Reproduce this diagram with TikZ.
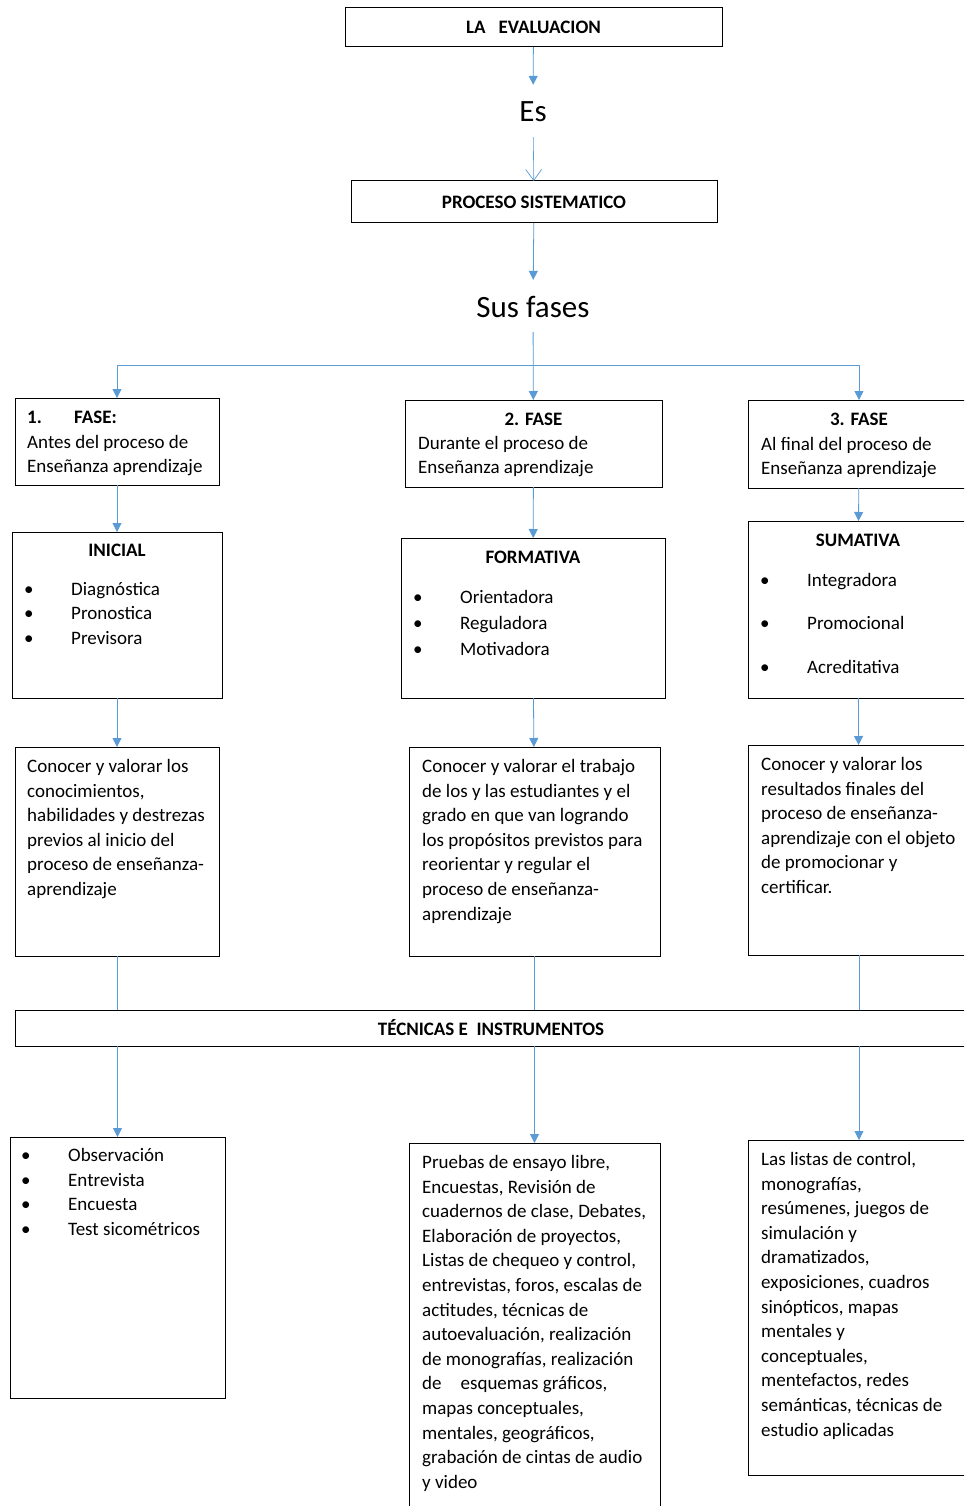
\documentclass[tikz,border=0pt]{standalone}
\usepackage{fontspec}
\setmainfont{Carlito}
\usetikzlibrary{positioning, arrows.meta}
\definecolor{linkblue}{RGB}{91,155,213}
\newcommand{\bitem}{\makebox[47pt][l]{\textbullet}}

\begin{document}
\begin{tikzpicture}
                [x=1pt, y=-1pt,
                bsty/.style={draw=black, line width=1pt, anchor=north west, inner sep=0pt, outer sep=0pt},
                csty/.style={draw=black, line width=1pt, anchor=north west, inner sep=0pt, outer sep=0pt, font=\fontsize{19}{24.6}\selectfont\bfseries},
                tsty/.style={inner sep=0pt, align=left, font=\fontsize{19}{24.6}\selectfont, execute at begin node=\strut},
                hsty/.style={tsty, font=\fontsize{19}{24.6}\selectfont\bfseries},
                lsty/.style={font=\fontsize{31}{36}\selectfont, text height=22pt, text depth=0pt, inner xsep=2pt, inner ysep=15pt},
                asty/.style={-{Triangle[length=9pt, width=9pt]}, draw=linkblue, line width=0.8pt},
                vsty/.style={-{Straight Barb[length=11pt, width=16pt, line width=0.7pt]}, draw=linkblue, line width=0.6pt},
                psty/.style={draw=linkblue, line width=0.8pt}]
                \path[fill=white, use as bounding box] (0,0) rectangle (964,1506);
                \clip (0,0) rectangle (964,1506);
                % top
                \node[csty, minimum width=377pt, minimum height=39pt] (eval) at (345,8) {LA\ \ \ EVALUACION};
                \node[lsty] (es) at (533,111) {Es};
                \node[csty, minimum width=366pt, minimum height=42pt] (proc) at (351,181) {PROCESO SISTEMATICO};
                \node[lsty] (fases) at (533,306) {Sus fases};
                \coordinate (fork) at (533,365);
                % phases
                \node[bsty, minimum width=204pt, minimum height=87pt] (f1) at (15,398) {};
                \node[tsty, below right=13pt and 12pt of f1.north west] (f1t) {\textbf{\makebox[47pt][l]{1.}FASE:}\\Antes del proceso de\\Enseñanza aprendizaje};
                \node[bsty, minimum width=257pt, minimum height=87pt] (f2) at (405,400) {};
                \node[hsty, below=8pt of f2.north] (f2h) {2. FASE};
                \node[tsty, below right=36pt and 13pt of f2.north west] (f2t) {Durante el proceso de\\Enseñanza aprendizaje};
                \node[bsty, minimum width=222pt, minimum height=88pt] (f3) at (748,400) {};
                \node[hsty, below=8pt of f3.north] (f3h) {3. FASE};
                \node[tsty, below right=37pt and 13pt of f3.north west] (f3t) {Al final del proceso de\\Enseñanza aprendizaje};
                % kinds
                \node[bsty, minimum width=210pt, minimum height=166pt] (ini) at (12,532) {};
                \node[hsty, below=7pt of ini.north] (inih) {INICIAL};
                \node[tsty, below right=50pt and 12pt of ini.north west] (init) {\bitem Diagnóstica\\\bitem Pronostica\\\bitem Previsora};
                \node[bsty, minimum width=264pt, minimum height=160pt] (form) at (401,538) {};
                \node[hsty, below=8pt of form.north] (formh) {FORMATIVA};
                \node[tsty, below right=52pt and 12pt of form.north west] (formt) {\bitem Orientadora\\[1.4pt]\bitem Reguladora\\[1.4pt]\bitem Motivadora};
                \node[bsty, minimum width=220pt, minimum height=177pt] (sum) at (748,521) {};
                \node[hsty, below=8pt of sum.north] (sumh) {SUMATIVA};
                \node[tsty, below right=52pt and 12pt of sum.north west] (sumt) {\bitem Integradora\\[19pt]\bitem Promocional\\[19pt]\bitem Acreditativa};
                % aims
                \node[bsty, minimum width=204pt, minimum height=209pt] (d1) at (15,747) {};
                \node[tsty, below right=12pt and 12pt of d1.north west] (d1t) {Conocer y valorar los\\conocimientos,\\habilidades y destrezas\\previos al inicio del\\proceso de enseñanza-\\aprendizaje};
                \node[bsty, minimum width=251pt, minimum height=209pt] (d2) at (409,747) {};
                \node[tsty, below right=12pt and 13pt of d2.north west] (d2t) {Conocer y valorar el trabajo\\de los y las estudiantes y el\\grado en que van logrando\\los propósitos previstos para\\reorientar y regular el\\proceso de enseñanza-\\aprendizaje};
                \node[bsty, minimum width=222pt, minimum height=210pt] (d3) at (748,745) {};
                \node[tsty, below right=12pt and 13pt of d3.north west] (d3t) {Conocer y valorar los\\resultados finales del\\proceso de enseñanza-\\aprendizaje con el objeto\\de promocionar y\\certificar.};
                % techniques
                \node[csty, minimum width=952pt, minimum height=36pt] (tec) at (15,1010) {TÉCNICAS E\ \ INSTRUMENTOS};
                \node[bsty, minimum width=215pt, minimum height=261pt] (t1) at (10,1137) {};
                \node[tsty, below right=11pt and 11pt of t1.north west] (t1t) {\bitem Observación\\\bitem Entrevista\\\bitem Encuesta\\\bitem Test sicométricos};
                \node[bsty, minimum width=251pt, minimum height=372pt] (t2) at (409,1143) {};
                \node[tsty, below right=12pt and 13pt of t2.north west] (t2t) {Pruebas de ensayo libre,\\Encuestas, Revisión de\\cuadernos de clase, Debates,\\Elaboración de proyectos,\\Listas de chequeo y control,\\entrevistas, foros, escalas de\\actitudes, técnicas de\\autoevaluación, realización\\de monografías, realización\\de\quad esquemas gráficos,\\mapas conceptuales,\\mentales, geográficos,\\grabación de cintas de audio\\y video};
                \node[bsty, minimum width=222pt, minimum height=335pt] (t3) at (748,1140) {};
                \node[tsty, below right=12pt and 13pt of t3.north west] (t3t) {Las listas de control,\\monografías,\\resúmenes, juegos de\\simulación y\\dramatizados,\\exposiciones, cuadros\\sinópticos, mapas\\mentales y\\conceptuales,\\mentefactos, redes\\semánticas, técnicas de\\estudio aplicadas};
                % connectors
                \draw[asty] (eval) -- (es);
                \draw[vsty] (es) -- (proc);
                \draw[asty] (proc) -- (fases);
                \draw[asty] (fases) -- (f2);
                \draw[asty] (fork) -| (f1);
                \draw[asty] (fork) -| (f3);
                \draw[asty] (f1) -- (ini);
                \draw[asty] (f2) -- (form);
                \draw[asty] (f3) -- (sum);
                \draw[asty] (ini) -- (d1);
                \draw[asty] (form) -- (d2);
                \draw[asty] (sum) -- (d3);
                \draw[psty] (d1) -- (d1 |- tec.north);
                \draw[psty] (d2) -- (d2 |- tec.north);
                \draw[psty] (d3) -- (d3 |- tec.north);
                \draw[asty] (tec.south -| t1) -- (t1);
                \draw[asty] (tec.south -| t2) -- (t2);
                \draw[asty] (tec.south -| t3) -- (t3);
            \end{tikzpicture}
\end{document}
